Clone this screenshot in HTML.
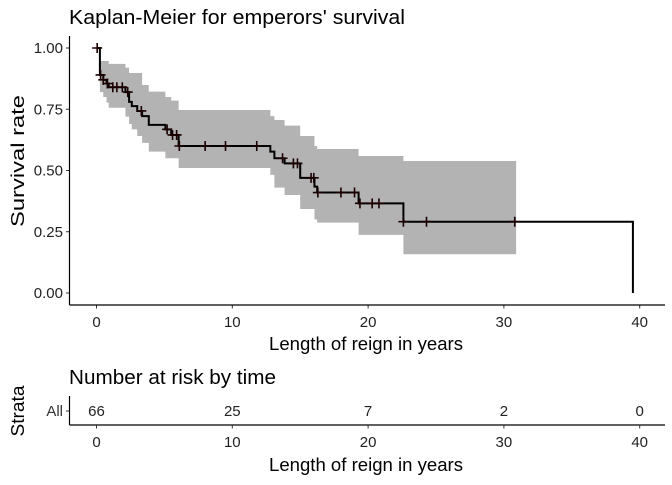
<!DOCTYPE html>
<html><head><meta charset="utf-8"><style>
body{margin:0;background:#fff}
text{font-family:"Liberation Sans",Arial,sans-serif}
</style></head><body>
<svg id="c" width="672" height="480" xmlns="http://www.w3.org/2000/svg">
<text x="69" y="24" font-size="20" textLength="336" lengthAdjust="spacingAndGlyphs" fill="#000">Kaplan-Meier for emperors' survival</text>
<g id="main"></g>
<line x1="69.5" y1="36" x2="69.5" y2="305" stroke="#000" stroke-width="1.2"/>
<line x1="69.5" y1="305" x2="665" y2="305" stroke="#000" stroke-width="1.2"/>
<text transform="translate(24,161) rotate(-90)" text-anchor="middle" font-size="18" textLength="132" lengthAdjust="spacingAndGlyphs">Survival rate</text>
<text x="366" y="350" text-anchor="middle" font-size="18" textLength="194" lengthAdjust="spacingAndGlyphs">Length of reign in years</text>
<text x="69" y="384" font-size="20" textLength="207" lengthAdjust="spacingAndGlyphs">Number at risk by time</text>
<line x1="69.5" y1="396" x2="69.5" y2="425" stroke="#000" stroke-width="1.2"/>
<line x1="69.5" y1="425" x2="665" y2="425" stroke="#000" stroke-width="1.2"/>
<line x1="66" y1="411" x2="69.5" y2="411" stroke="#333"/>
<text x="63" y="416" text-anchor="end" font-size="15" fill="#333">All</text>
<text transform="translate(24,411) rotate(-90)" text-anchor="middle" font-size="18" textLength="51" lengthAdjust="spacingAndGlyphs">Strata</text>
<text x="366" y="471" text-anchor="middle" font-size="18" textLength="194" lengthAdjust="spacingAndGlyphs">Length of reign in years</text>
<g id="risk"></g>
</svg>
<script>
const times=[0,0.25,0.5,0.74,0.9,2.13,2.4,2.6,3.0,3.36,3.85,5.07,5.5,6.05,12.8,13.1,13.85,15.0,16.05,16.25,19.3,22.6];
const surv=[1,0.89,0.87,0.855,0.84,0.82,0.78,0.763,0.743,0.722,0.686,0.668,0.645,0.6,0.577,0.55,0.529,0.47,0.434,0.41,0.366,0.291];
const lower=[1,0.82,0.80,0.777,0.756,0.72,0.69,0.668,0.641,0.613,0.577,0.55,0.55,0.51,0.482,0.43,0.4,0.343,0.3,0.287,0.237,0.158];
const upper=[1,0.947,0.947,0.947,0.935,0.92,0.898,0.898,0.898,0.849,0.822,0.8,0.785,0.747,0.722,0.706,0.683,0.641,0.6,0.588,0.559,0.539];
const bandEnd=30.9, lastTime=39.5;
const censorT=[0.05,0.3,0.5,0.8,1.2,1.5,1.9,2.3,3.3,5.2,5.6,5.9,6.1,8.0,9.5,11.8,13.7,14.5,14.8,15.8,16.0,16.3,18.0,19.0,19.4,20.3,20.8,22.6,24.3,30.8];
const xTicks=[0,10,20,30,40];
const yTicks=[0,0.25,0.5,0.75,1.0];
const yTickLabels=["0.00","0.25","0.50","0.75","1.00"];
const riskCounts=[66,25,7,2,0];
const NS="http://www.w3.org/2000/svg";
const X=t=>96.5+t*13.58, Y=s=>293-s*245;
const mainG=document.getElementById('main'), riskG=document.getElementById('risk');
function mk(tag,attrs,parent){const e=document.createElementNS(NS,tag);for(const k in attrs)e.setAttribute(k,attrs[k]);parent.appendChild(e);return e;}
function survAt(t){let s=1;for(let i=0;i<times.length;i++)if(times[i]<=t)s=surv[i];return s;}
let upPath='',loPath='';
for(let i=0;i<times.length;i++){const t0=times[i],t1=i+1<times.length?times[i+1]:bandEnd;
 upPath+=(i?'L':'M')+X(t0)+','+Y(upper[i])+'L'+X(t1)+','+Y(upper[i]);
 loPath='L'+X(t1)+','+Y(lower[i])+'L'+X(t0)+','+Y(lower[i])+loPath;}
const band=mk('path',{d:upPath+loPath+'Z',fill:'#b3b3b3'},mainG);


let d='M'+X(0)+','+Y(surv[0]);
for(let i=1;i<times.length;i++){d+='L'+X(times[i])+','+Y(surv[i-1])+'L'+X(times[i])+','+Y(surv[i]);}
d+='L'+X(lastTime)+','+Y(surv[surv.length-1])+'L'+X(lastTime)+','+Y(0);
const curve=mk('path',{d:d,fill:'none',stroke:'#000','stroke-width':2},mainG);


censorT.forEach(t=>{const x=X(t),y=Y(survAt(t));
 const p=mk('path',{d:`M${x-5},${y}H${x+5}M${x},${y-5}V${y+5}`,stroke:'#1a0000','stroke-width':1.6},mainG);
 
 });
yTicks.forEach((v,i)=>{const y=Y(v);
 const tk=mk('line',{x1:66,x2:69.5,y1:y,y2:y,stroke:'#333'},mainG);
 
 
 const tx=mk('text',{x:63,y:y+5,'text-anchor':'end','font-size':15,fill:'#222'},mainG);tx.textContent=yTickLabels[i];
 
 });
xTicks.forEach((v,i)=>{const x=X(v);
 [[305,322],[425,442]].forEach(([ly,ty],j)=>{const g=j?riskG:mainG;
  const tk=mk('line',{x1:x,x2:x,y1:ly,y2:ly+3.5,stroke:'#333'},g);
  
  
  const tx=mk('text',{x:x,y:ty+5,'text-anchor':'middle','font-size':15,fill:'#222'},g);tx.textContent=v;
  
  });
 const rc=mk('text',{x:x,y:416,'text-anchor':'middle','font-size':15,fill:'#222'},riskG);rc.textContent=riskCounts[i];
 
 });
</script>
</body></html>
